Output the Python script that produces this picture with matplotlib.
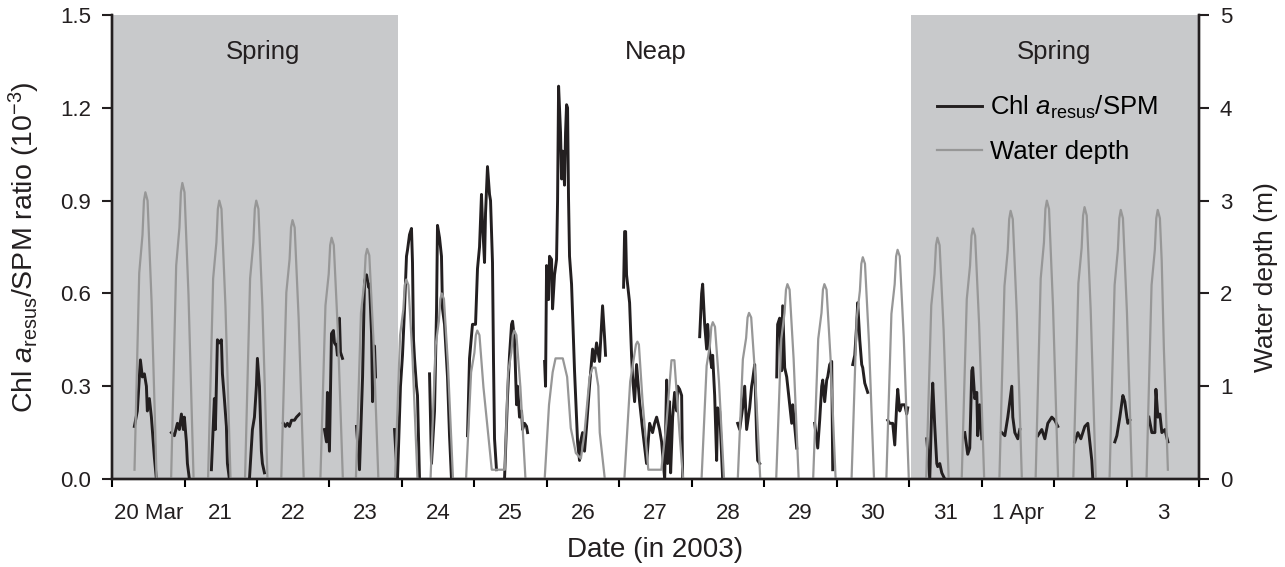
import numpy as np
import matplotlib
matplotlib.use('Agg')
import matplotlib.pyplot as plt
from matplotlib.lines import Line2D

plt.rcParams['font.family'] = ['Liberation Sans', 'DejaVu Sans']
plt.rcParams['mathtext.fontset'] = 'custom'
plt.rcParams['mathtext.rm'] = 'Liberation Sans'
plt.rcParams['mathtext.it'] = 'Liberation Sans:italic'

# time axis: days since 20 Mar 2003 00:00
day_labels = ['20 Mar', '21', '22', '23', '24', '25', '26', '27', '28', '29',
              '30', '31', '1 Apr', '2', '3']
spring_1 = (0.0, 3.95)
spring_2 = (11.02, 15.0)
phase_names = ['Spring', 'Neap', 'Spring']
phase_mid = [2.08, 7.5, 13.0]

# water depth (m), one row per tide
depth_day = [
    0.31, 0.375, 0.42, 0.44, 0.46, 0.49, 0.515, 0.545, 0.615,
    0.815, 0.885, 0.93, 0.95, 0.97, 1.0, 1.025, 1.055, 1.125,
    1.325, 1.395, 1.44, 1.46, 1.48, 1.51, 1.535, 1.565, 1.635,
    1.835, 1.905, 1.95, 1.97, 1.99, 2.02, 2.045, 2.075, 2.145,
    2.335, 2.405, 2.45, 2.47, 2.49, 2.52, 2.545, 2.575, 2.645,
    2.875, 2.945, 2.99, 3.01, 3.03, 3.06, 3.085, 3.115, 3.185,
    3.365, 3.435, 3.48, 3.50, 3.52, 3.55, 3.575, 3.605, 3.675,
    3.905, 3.975, 4.02, 4.04, 4.06, 4.09, 4.115, 4.145, 4.215,
    4.395, 4.465, 4.51, 4.53, 4.55, 4.58, 4.605, 4.635, 4.705,
    4.885, 4.955, 5.0, 5.02, 5.04, 5.07, 5.095, 5.125, 5.24, 5.42,
    5.465, 5.51, 5.53, 5.55, 5.58, 5.605, 5.635, 5.705,
    5.97, 6.03, 6.08, 6.12, 6.22, 6.28, 6.33, 6.40, 6.47,
    6.52, 6.59, 6.63, 6.67, 6.71, 6.73, 6.80,
    7.07, 7.15, 7.20, 7.23, 7.25, 7.27, 7.32, 7.40, 7.58,
    7.65, 7.72, 7.76, 7.83, 7.88,
    8.135, 8.205, 8.25, 8.27, 8.29, 8.32, 8.345, 8.375, 8.445,
    8.635, 8.705, 8.75, 8.77, 8.79, 8.82, 8.845, 8.875, 8.945,
    9.165, 9.235, 9.28, 9.30, 9.32, 9.35, 9.375, 9.405, 9.475,
    9.675, 9.745, 9.79, 9.81, 9.83, 9.86, 9.885, 9.915, 9.985,
    10.205, 10.275, 10.32, 10.34, 10.36, 10.39, 10.415, 10.445, 10.515,
    10.685, 10.755, 10.80, 10.82, 10.84, 10.87, 10.895, 10.925, 10.995,
    11.235, 11.305, 11.35, 11.37, 11.39, 11.42, 11.445, 11.475, 11.545,
    11.725, 11.795, 11.84, 11.86, 11.88, 11.91, 11.935, 11.965, 12.035,
    12.245, 12.315, 12.36, 12.38, 12.40, 12.43, 12.455, 12.485, 12.555,
    12.745, 12.815, 12.86, 12.88, 12.90, 12.93, 12.955, 12.985, 13.055,
    13.265, 13.335, 13.38, 13.40, 13.42, 13.45, 13.475, 13.505, 13.575,
    13.765, 13.835, 13.88, 13.90, 13.92, 13.95, 13.975, 14.005, 14.075,
    14.275, 14.345, 14.39, 14.41, 14.43, 14.46, 14.485, 14.515, 14.57,
]
depth_m = [
    0.1, 2.22, 2.63, 3.0, 3.09, 3.0, 2.5, 1.92, 0,
    0, 2.30, 2.71, 3.09, 3.19, 3.09, 2.58, 1.98, 0,
    0, 2.16, 2.55, 2.91, 3.0, 2.91, 2.43, 1.86, 0,
    0, 2.16, 2.55, 2.91, 3.0, 2.91, 2.43, 1.86, 0,
    0, 2.01, 2.37, 2.71, 2.79, 2.71, 2.26, 1.73, 0,
    0, 1.87, 2.21, 2.52, 2.6, 2.52, 2.11, 1.61, 0,
    0, 1.79, 2.11, 2.41, 2.48, 2.41, 2.01, 1.54, 0,
    0, 1.55, 1.83, 2.09, 2.15, 2.09, 1.74, 1.33, 0,
    0, 1.44, 1.7, 1.94, 2.0, 1.94, 1.62, 1.24, 0,
    0, 1.15, 1.36, 1.55, 1.6, 1.55, 1.3, 0.99, 0.1, 0.1,
    1.15, 1.36, 1.55, 1.6, 1.55, 1.3, 0.99, 0,
    0, 0.8, 1.15, 1.3, 1.3, 1.1, 0.55, 0.28, 0.22,
    0.5, 1.1, 1.2, 1.2, 1.0, 0.5, 0,
    0, 1.05, 1.3, 1.45, 1.48, 1.45, 0.85, 0.1, 0.1,
    0.6, 1.28, 1.28, 0.5, 0,
    0, 1.22, 1.44, 1.64, 1.69, 1.64, 1.37, 1.05, 0,
    0, 1.29, 1.52, 1.74, 1.79, 1.74, 1.45, 1.11, 0,
    0, 1.51, 1.79, 2.04, 2.1, 2.04, 1.7, 1.3, 0,
    0, 1.51, 1.79, 2.04, 2.1, 2.04, 1.7, 1.3, 0,
    0, 1.72, 2.03, 2.32, 2.39, 2.32, 1.94, 1.48, 0,
    0, 1.78, 2.1, 2.4, 2.47, 2.4, 2.0, 1.53, 0,
    0, 1.87, 2.21, 2.52, 2.6, 2.52, 2.11, 1.61, 0,
    0, 1.94, 2.3, 2.62, 2.7, 2.62, 2.19, 1.67, 0,
    0, 2.08, 2.46, 2.8, 2.89, 2.8, 2.34, 1.79, 0,
    0, 2.16, 2.55, 2.91, 3.0, 2.91, 2.43, 1.86, 0,
    0, 2.11, 2.49, 2.84, 2.93, 2.84, 2.37, 1.82, 0,
    0, 2.09, 2.47, 2.81, 2.9, 2.81, 2.35, 1.8, 0,
    0, 2.09, 2.47, 2.81, 2.9, 2.81, 2.35, 1.4, 0.1,
]

# Chl a_resus / SPM ratio (1e-3), None = no data (tidal flat emerged)
chl_day = [
    0.308, 0.349, 0.391, 0.418, 0.446, 0.474, 0.487, 0.515, 0.543, 0.584, 0.612, None,
    0.819, 0.860, 0.902, 0.929, 0.957, 0.984, 0.998, 1.026, 1.040, 1.067, None,
    1.371, 1.412, 1.426, 1.454, 1.481, 1.509, 1.523, 1.550, 1.578, 1.592, 1.619, None,
    1.896, 1.937, 1.965, 1.992, 2.006, 2.034, 2.061, 2.075, 2.103, None,
    2.365, 2.393, 2.420, 2.448, 2.476, 2.517, 2.545, 2.586, None,
    2.931, 2.959, 2.972, 3.000, 3.028, 3.055, 3.069, 3.097, 3.110, 3.138, 3.152, 3.180, None,
    3.373, 3.415, 3.457, 3.484, 3.512, 3.540, 3.553, 3.581, 3.595, 3.622, 3.636, None,
    3.898, 3.925, 3.939, 3.980, 4.008, 4.036, 4.063, 4.077, 4.105, 4.132, 4.146, 4.160,
    4.174, 4.201, 4.215, 4.243, None,
    4.381, 4.408, 4.450, 4.478, 4.491, 4.519, 4.546, 4.560, 4.588, 4.629, 4.657, 4.684, None,
    4.905, 4.933, 4.974, 5.016, 5.043, 5.071, 5.098, 5.112, 5.140, 5.154, 5.181, 5.209,
    5.223, 5.250, 5.264, 5.278, 5.305, None,
    5.416, 5.458, 5.485, 5.513, 5.527, 5.554, 5.582, 5.596, 5.623, 5.651, 5.665, 5.692,
    5.720, 5.734, None,
    5.969, 5.982, 5.996, 6.024, 6.037, 6.065, 6.079, 6.106, 6.134, 6.148, 6.162, 6.189,
    6.203, 6.217, 6.244, 6.258, 6.272, 6.286, 6.299, 6.313, 6.341, 6.382, 6.424, 6.451,
    6.465, 6.493, 6.520, 6.548, 6.589, 6.631, 6.658, 6.686, 6.713, 6.727, 6.755, 6.769,
    6.796, 6.810, None,
    7.059, 7.073, 7.087, 7.100, 7.142, 7.169, 7.183, 7.211, 7.238, 7.280, 7.321, 7.376,
    7.418, 7.459, 7.487, 7.515, 7.556, 7.584, 7.626, 7.653, 7.667, 7.694, 7.708, 7.736,
    7.763, 7.791, 7.805, 7.832, 7.860, 7.874, None,
    8.109, 8.136, 8.150, 8.178, 8.205, 8.219, 8.247, 8.274, 8.288, 8.316, 8.343, 8.357,
    8.385, 8.426, None,
    8.633, 8.661, 8.702, 8.730, 8.757, 8.799, 8.826, 8.840, 8.868, 8.896, 8.909, 8.937, None,
    9.172, 9.185, 9.213, 9.241, 9.254, 9.282, 9.310, 9.351, 9.379, 9.393, 9.420, 9.448, None,
    9.696, 9.738, 9.765, 9.793, 9.807, 9.834, 9.862, 9.876, 9.903, 9.931, 9.945, None,
    10.221, 10.249, 10.276, 10.290, 10.318, 10.345, 10.359, 10.387, 10.414, 10.428, None,
    10.704, 10.732, 10.773, 10.801, 10.828, 10.842, 10.870, 10.897, 10.939, 10.966, 10.980, None,
    11.243, 11.284, 11.312, 11.325, 11.353, 11.381, 11.394, 11.422, 11.450, 11.491, None,
    11.767, 11.808, 11.836, 11.864, 11.877, 11.905, 11.933, 11.946, 11.974, 12.002, None,
    12.278, 12.320, 12.361, 12.389, 12.416, 12.430, 12.458, 12.499, 12.527, None,
    12.775, 12.830, 12.872, 12.913, 12.968, 13.010, 13.051, None,
    13.286, 13.327, 13.369, 13.424, 13.465, 13.493, 13.520, 13.534, None,
    13.838, 13.866, 13.907, 13.949, 13.976, 14.004, 14.018, 14.045, None,
    14.308, 14.349, 14.391, 14.405, 14.432, 14.460, 14.487, 14.529, 14.570,
]
chl_ratio = [
    0.17, 0.22, 0.385, 0.33, 0.34, 0.30, 0.22, 0.26, 0.20, 0.07, 0.0, None,
    0.15, 0.14, 0.18, 0.16, 0.21, 0.16, 0.20, 0.12, 0.05, 0.0, None,
    0.03, 0.26, 0.16, 0.45, 0.44, 0.45, 0.34, 0.26, 0.17, 0.05, 0.0, None,
    0.0, 0.16, 0.20, 0.30, 0.39, 0.30, 0.09, 0.05, 0.02, None,
    0.18, 0.17, 0.18, 0.17, 0.19, 0.19, 0.20, 0.21, None,
    0.16, 0.12, 0.28, 0.09, 0.47, 0.48, 0.44, 0.43, 0.40, 0.52, 0.41, 0.39, None,
    0.17, 0.03, 0.33, 0.64, 0.66, 0.62, 0.63, 0.47, 0.25, 0.43, 0.33, None,
    0.16, 0.05, 0.0, 0.30, 0.40, 0.55, 0.72, 0.74, 0.79, 0.81, 0.70, 0.45,
    0.39, 0.30, 0.27, 0.0, None,
    0.34, 0.05, 0.22, 0.55, 0.82, 0.78, 0.72, 0.55, 0.50, 0.33, 0.14, 0.0, None,
    0.14, 0.39, 0.50, 0.50, 0.68, 0.75, 0.92, 0.83, 0.70, 0.86, 1.01, 0.92,
    0.90, 0.70, 0.38, 0.13, 0.03, None,
    0.0, 0.27, 0.40, 0.50, 0.51, 0.45, 0.24, 0.30, 0.20, 0.22, 0.16, 0.18,
    0.17, 0.15, None,
    0.38, 0.30, 0.69, 0.58, 0.72, 0.71, 0.55, 0.66, 0.71, 0.90, 1.27, 1.12,
    0.97, 1.06, 0.95, 1.12, 1.21, 1.20, 0.91, 0.72, 0.63, 0.35, 0.12, 0.06,
    0.12, 0.15, 0.09, 0.17, 0.30, 0.42, 0.38, 0.44, 0.40, 0.38, 0.50, 0.56,
    0.46, 0.40, None,
    0.62, 0.80, 0.80, 0.66, 0.57, 0.40, 0.33, 0.25, 0.37, 0.25, 0.16, 0.05,
    0.18, 0.15, 0.18, 0.20, 0.16, 0.12, 0.0, 0.32, 0.05, 0.25, 0.02, 0.20,
    0.28, 0.22, 0.30, 0.29, 0.27, 0.0, None,
    0.46, 0.60, 0.63, 0.50, 0.42, 0.50, 0.41, 0.36, 0.40, 0.27, 0.06, 0.23,
    0.22, 0.0, None,
    0.18, 0.16, 0.23, 0.30, 0.16, 0.23, 0.30, 0.32, 0.37, 0.13, 0.06, 0.05, None,
    0.33, 0.50, 0.52, 0.35, 0.56, 0.36, 0.33, 0.24, 0.18, 0.24, 0.17, 0.10, None,
    0.18, 0.10, 0.19, 0.30, 0.32, 0.25, 0.32, 0.33, 0.37, 0.38, 0.03, None,
    0.37, 0.40, 0.50, 0.57, 0.45, 0.37, 0.36, 0.31, 0.29, 0.28, None,
    0.19, 0.18, 0.18, 0.11, 0.24, 0.29, 0.22, 0.24, 0.24, 0.21, 0.23, None,
    0.13, 0.0, 0.24, 0.31, 0.17, 0.05, 0.04, 0.05, 0.02, 0.0, None,
    0.15, 0.08, 0.10, 0.35, 0.36, 0.26, 0.28, 0.14, 0.24, 0.13, None,
    0.15, 0.14, 0.20, 0.25, 0.30, 0.20, 0.15, 0.13, 0.16, None,
    0.14, 0.16, 0.13, 0.18, 0.20, 0.19, 0.17, None,
    0.12, 0.15, 0.13, 0.17, 0.18, 0.12, 0.06, 0.0, None,
    0.12, 0.14, 0.20, 0.27, 0.25, 0.20, 0.18, 0.19, None,
    0.20, 0.15, 0.15, 0.29, 0.20, 0.21, 0.15, 0.16, 0.12,
]

SHADE = '#c8c9cb'
BLACK = '#231f20'
GREY = '#979797'
FS_TICK = 16
FS_TEXT = 18.5

fig = plt.figure(figsize=(12.85, 5.67), dpi=100)
ax = fig.add_axes([0.0872, 0.1552, 0.8459, 0.8183])
ax2 = ax.twinx()

for span in (spring_1, spring_2):
    ax.axvspan(span[0], span[1], color=SHADE, lw=0, zorder=0)

ax.plot(np.array(chl_day, dtype=float), np.array(chl_ratio, dtype=float),
        color=BLACK, lw=2.1)
ax2.plot(depth_day, depth_m, color=GREY, lw=1.6)

for name, mid in zip(phase_names, phase_mid):
    ax.text(mid, 0.92, name, transform=ax.get_xaxis_transform(),
            ha='center', va='center', fontsize=FS_TEXT, color=BLACK)

ax.set_xlim(0, 15)
ax.set_ylim(0, 1.5)
ax2.set_ylim(0, 5)

ax.set_xticks(np.arange(0, 16))
ax.set_xticklabels([])
ax.set_xticks(np.arange(15) + 0.5, minor=True)
ax.set_xticklabels(day_labels, minor=True)
ax.tick_params(axis='x', which='major', direction='out', length=6, width=1.5)
ax.tick_params(axis='x', which='minor', length=0, pad=17, labelsize=FS_TICK,
               labelcolor=BLACK)

ax.set_yticks([0, 0.3, 0.6, 0.9, 1.2, 1.5])
ax.set_yticklabels(['0.0', '0.3', '0.6', '0.9', '1.2', '1.5'])
ax2.set_yticks([0, 1, 2, 3, 4, 5])
for a in (ax, ax2):
    a.tick_params(axis='y', direction='out', length=7, width=1.5, pad=8,
                  labelsize=FS_TICK, labelcolor=BLACK, color=BLACK)
    a.spines['top'].set_visible(False)
    for s in ('left', 'right', 'bottom'):
        a.spines[s].set_linewidth(1.7)
        a.spines[s].set_color(BLACK)

ax.set_xlabel('Date (in 2003)', fontsize=20, color=BLACK)
ax.xaxis.set_label_coords(0.5, -0.125)
ax.set_ylabel(r'Chl $a_{\mathrm{resus}}$/SPM ratio (10$^{-3}$)',
              fontsize=20.5, color=BLACK)
ax.yaxis.set_label_coords(-0.064, 0.5)
ax2.set_ylabel('Water depth (m)', fontsize=19, color=BLACK)
ax2.yaxis.set_label_coords(1.051, 0.435)

handles = [Line2D([], [], color=BLACK, lw=2.1), Line2D([], [], color=GREY, lw=1.6)]
labels = [r'Chl $a_{\mathrm{resus}}$/SPM', 'Water depth']
ax2.legend(handles, labels, loc='upper left', bbox_to_anchor=(0.759, 0.83),
           frameon=False, borderpad=0, borderaxespad=0, handlelength=1.75,
           handletextpad=0.3, labelspacing=0.75, fontsize=FS_TEXT)

fig.savefig('out.png', dpi=100)
